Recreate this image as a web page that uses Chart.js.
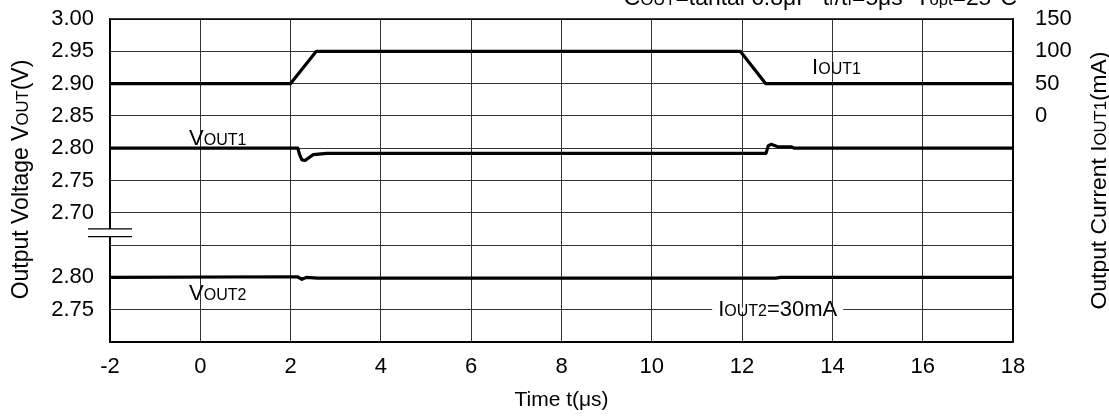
<!DOCTYPE html>
<html>
<head>
<meta charset="utf-8">
<script src="https://cdn.jsdelivr.net/npm/chart.js@4.4.0/dist/chart.umd.min.js"></script>
<style>
  html, body { margin: 0; padding: 0; background: #fff; }
  #wrap { width: 1109px; height: 416px; position: relative; }
</style>
</head>
<body>
<div id="wrap"><canvas id="chart"></canvas></div>
<script>
// time (µs)
const xMin = -2, xMax = 18, xStep = 2;

// IOUT1 load step (mA)
const ioutTime = [-2, 2.0, 2.57, 11.96, 12.52, 18];
const ioutVals = [50, 50, 100, 100, 50, 50];

// VOUT1 response (V)
const vout1Time = [-2, 2.16, 2.2, 2.25, 2.32, 2.5, 2.8, 12.53, 12.58, 12.65, 12.72, 12.8, 13.1, 13.15, 18];
const vout1Vals = [2.800, 2.800, 2.790, 2.782, 2.781, 2.790, 2.792, 2.792, 2.804, 2.806, 2.804, 2.802, 2.802, 2.800, 2.800];

// VOUT2 response (V), IOUT2 = 30mA
const vout2Time = [-2, 2.15, 2.25, 2.35, 2.6, 12.75, 12.85, 18];
const vout2Vals = [2.800, 2.801, 2.797, 2.800, 2.799, 2.799, 2.800, 2.800];

// left axis labels from bottom to top (axis is broken between 2.70 and the lower 2.80)
const leftTickLabels = ['', '2.75', '2.80', '', '2.70', '2.75', '2.80', '2.85', '2.90', '2.95', '3.00'];

const FONT = "'Liberation Sans', Arial, Helvetica, sans-serif";
const BIG = 22, SMALL = 16;

function pts(xs, ys) {
    return xs.map((x, i) => ({ x: x, y: ys[i] }));
}

function textWidth(ctx, parts, k) {
    let w = 0;
    parts.forEach(p => {
        ctx.font = (p[1] ? SMALL : BIG) * k + "px " + FONT;
        w += ctx.measureText(p[0]).width;
    });
    return w;
}

// draw text made of normal and small (subscript-like) parts
function richText(ctx, parts, x, y, align, k) {
    k = k || 1;
    const w = textWidth(ctx, parts, k);
    let cx = align === 'center' ? x - w / 2 : align === 'right' ? x - w : x;
    ctx.textBaseline = 'alphabetic';
    ctx.textAlign = 'left';
    parts.forEach(p => {
        ctx.font = (p[1] ? SMALL : BIG) * k + "px " + FONT;
        ctx.fillText(p[0], cx, y);
        cx += ctx.measureText(p[0]).width;
    });
    return w;
}

const decor = {
    id: 'decor',
    beforeDatasetsDraw(chart) {
        const ctx = chart.ctx;
        const a = chart.chartArea;
        const x = chart.scales.x, y = chart.scales.y;
        ctx.save();
        // IOUT2 label sits on a white patch over the 2.75 grid line
        const iout2 = [['I', 0], ['OUT2', 1], ['=30mA', 0]];
        const lx = x.getPixelForValue(11.47);
        const gy = y.getPixelForValue(2.55);
        const w = textWidth(ctx, iout2, 1);
        ctx.fillStyle = '#fff';
        ctx.fillRect(lx - 6, gy - 2, w + 12, 4);
        ctx.fillStyle = '#000';
        richText(ctx, iout2, lx, gy + 6, 'left');
        // frame
        ctx.strokeStyle = '#000';
        ctx.lineWidth = 1.5;
        ctx.strokeRect(a.left, a.top, a.right - a.left, a.bottom - a.top);
        ctx.restore();
    },
    afterDraw(chart) {
        const ctx = chart.ctx;
        const a = chart.chartArea;
        const x = chart.scales.x, y = chart.scales.y, y2 = chart.scales.y2, y3 = chart.scales.y3;
        ctx.save();
        // axis break mark
        const b1 = y.getPixelForValue(2.675), b2 = y.getPixelForValue(2.663);
        ctx.fillStyle = '#fff';
        ctx.fillRect(a.left - 4, b1, 8, b2 - b1);
        ctx.strokeStyle = '#000';
        ctx.lineWidth = 1.2;
        ctx.beginPath();
        ctx.moveTo(a.left - 22, b1); ctx.lineTo(a.left + 22, b1);
        ctx.moveTo(a.left - 22, b2); ctx.lineTo(a.left + 22, b2);
        ctx.stroke();
        ctx.fillStyle = '#000';
        // series labels
        richText(ctx, [['V', 0], ['OUT1', 1]], x.getPixelForValue(-0.25), y.getPixelForValue(2.8056), 'left');
        richText(ctx, [['V', 0], ['OUT2', 1]], x.getPixelForValue(-0.25), y2.getPixelForValue(2.765), 'left');
        richText(ctx, [['I', 0], ['OUT1', 1]], x.getPixelForValue(13.55), y3.getPixelForValue(65), 'left');
        // test conditions (cut off at the top of the picture)
        richText(ctx, [['C', 0], ['OUT', 1], ['=tantal 6.8μF  t', 0], ['r', 1], ['/t', 0], ['f', 1], ['=5μs  T', 0], ['opt', 1], ['=25°C', 0]], 1017, 5, 'right', 1.04);
        // axis titles
        ctx.translate(20, (a.top + a.bottom) / 2 - 1);
        ctx.rotate(-Math.PI / 2);
        richText(ctx, [['Output Voltage V', 0], ['OUT', 1], ['(V)', 0]], 0, 8, 'center', 1.045);
        ctx.setTransform(1, 0, 0, 1, 0, 0);
        ctx.translate(1098, (a.top + a.bottom) / 2);
        ctx.rotate(-Math.PI / 2);
        richText(ctx, [['Output Current I', 0], ['OUT1', 1], ['(mA)', 0]], 0, 8, 'center', 1.04);
        ctx.restore();
    }
};

const lineStyle = {
    borderColor: '#000',
    borderWidth: 3.2,
    pointRadius: 0,
    tension: 0,
    fill: false,
    borderJoinStyle: 'round'
};

const tickFont = { family: FONT, size: BIG };

// fixed axis boxes so the plot area lands where it does in the reference
function fixY(width) {
    return s => { s.width = width; s.paddingTop = 0; s.paddingBottom = 0; };
}

new Chart(document.getElementById('chart'), {
    type: 'line',
    data: {
        datasets: [
            Object.assign({ label: 'IOUT1', data: pts(ioutTime, ioutVals), yAxisID: 'y3' }, lineStyle),
            Object.assign({ label: 'VOUT1', data: pts(vout1Time, vout1Vals), yAxisID: 'y' }, lineStyle),
            Object.assign({ label: 'VOUT2', data: pts(vout2Time, vout2Vals), yAxisID: 'y2' }, lineStyle)
        ]
    },
    options: {
        responsive: true,
        maintainAspectRatio: false,
        animation: false,
        layout: { padding: { top: 19, left: 0, right: 0, bottom: 0 } },
        plugins: { legend: { display: false }, tooltip: { enabled: false } },
        scales: {
            x: {
                type: 'linear',
                min: xMin, max: xMax,
                ticks: { stepSize: xStep, color: '#000', font: tickFont, padding: 12 },
                grid: { color: '#333', lineWidth: 1, drawTicks: false },
                border: { color: '#000', width: 1.5 },
                title: { display: true, text: 'Time t(μs)', color: '#000', font: { family: FONT, size: 21 }, padding: { top: 0, bottom: 3 } },
                afterFit: s => { s.height = 74; s.paddingLeft = 0; s.paddingRight = 0; }
            },
            y: {
                position: 'left',
                min: 2.50, max: 3.00,
                ticks: {
                    stepSize: 0.05, color: '#000', font: tickFont, padding: 16,
                    callback: (v, i) => leftTickLabels[i]
                },
                grid: { color: '#333', lineWidth: 1, drawTicks: false },
                border: { color: '#000', width: 1.5 },
                afterFit: fixY(110)
            },
            y2: {
                display: false,
                min: 2.70, max: 3.20
            },
            y3: {
                position: 'right',
                min: -350, max: 150,
                ticks: {
                    stepSize: 50, color: '#000', font: tickFont, padding: 22,
                    callback: v => (v >= 0 ? v : '')
                },
                grid: { display: false, drawTicks: false },
                border: { color: '#000', width: 1.5 },
                afterFit: fixY(96)
            }
        }
    },
    plugins: [decor]
});
</script>
</body>
</html>
